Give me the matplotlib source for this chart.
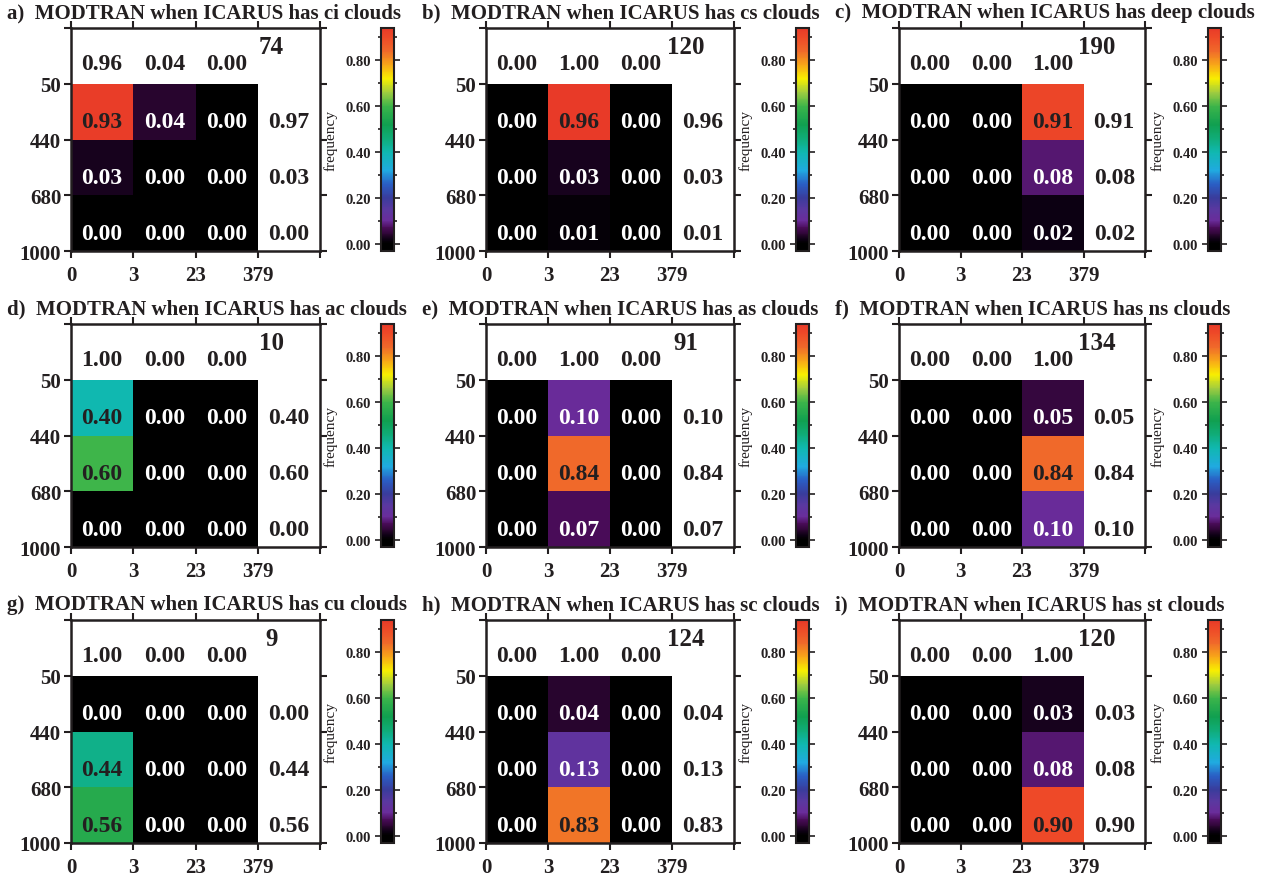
import numpy as np
from matplotlib import pyplot as plt
from matplotlib.colors import LinearSegmentedColormap, Normalize

plt.rcParams['font.family'] = ['Liberation Serif', 'DejaVu Serif']
plt.rcParams['font.weight'] = 'bold'

# data
panel_tags = ['a', 'b', 'c', 'd', 'e', 'f', 'g', 'h', 'i']
cloud_types = ['ci', 'cs', 'deep', 'ac', 'as', 'ns', 'cu', 'sc', 'st']
counts = [74, 120, 190, 10, 91, 134, 9, 124, 120]
x_labels = ['0', '3', '23', '379']
y_labels = ['1000', '680', '440', '50']

# rows top->bottom (50-440, 440-680, 680-1000), cols (0-3, 3-23, 23-379)
freq = [
    [[0.93, 0.04, 0.00], [0.03, 0.00, 0.00], [0.00, 0.00, 0.00]],
    [[0.00, 0.96, 0.00], [0.00, 0.03, 0.00], [0.00, 0.01, 0.00]],
    [[0.00, 0.00, 0.91], [0.00, 0.00, 0.08], [0.00, 0.00, 0.02]],
    [[0.40, 0.00, 0.00], [0.60, 0.00, 0.00], [0.00, 0.00, 0.00]],
    [[0.00, 0.10, 0.00], [0.00, 0.84, 0.00], [0.00, 0.07, 0.00]],
    [[0.00, 0.00, 0.05], [0.00, 0.00, 0.84], [0.00, 0.00, 0.10]],
    [[0.00, 0.00, 0.00], [0.44, 0.00, 0.00], [0.56, 0.00, 0.00]],
    [[0.00, 0.04, 0.00], [0.00, 0.13, 0.00], [0.00, 0.83, 0.00]],
    [[0.00, 0.00, 0.03], [0.00, 0.00, 0.08], [0.00, 0.00, 0.90]],
]
col_sums = [
    [0.96, 0.04, 0.00], [0.00, 1.00, 0.00], [0.00, 0.00, 1.00],
    [1.00, 0.00, 0.00], [0.00, 1.00, 0.00], [0.00, 0.00, 1.00],
    [1.00, 0.00, 0.00], [0.00, 1.00, 0.00], [0.00, 0.00, 1.00],
]
row_sums = [
    [0.97, 0.03, 0.00], [0.96, 0.03, 0.01], [0.91, 0.08, 0.02],
    [0.40, 0.60, 0.00], [0.10, 0.84, 0.07], [0.05, 0.84, 0.10],
    [0.00, 0.44, 0.56], [0.04, 0.13, 0.83], [0.03, 0.08, 0.90],
]

# colour scale (value -> colour), similar to the GMT rainbow used in the original
vmin, vmax = -0.03, 0.94
anchors = [(-0.03, '#000000'), (0.0, '#000000'), (0.02, '#0c0012'), (0.04, '#2a0530'),
           (0.07, '#4a0c5a'), (0.10, '#6a2c9a'), (0.15, '#5a38a0'), (0.20, '#3a3c9c'),
           (0.26, '#2a5ec4'), (0.32, '#20aae0'), (0.40, '#10b8b0'), (0.46, '#10ac78'),
           (0.52, '#10a050'), (0.60, '#3cb44a'), (0.66, '#a0cc40'), (0.72, '#f8f000'),
           (0.78, '#f8a818'), (0.84, '#f06a2a'), (0.90, '#ee4a28'), (0.94, '#e83a28')]
cmap = LinearSegmentedColormap.from_list(
    'gmt_rainbow', [((v - vmin) / (vmax - vmin), c) for v, c in anchors])
norm = Normalize(vmin=vmin, vmax=vmax)

W, H = 1265, 879
fig = plt.figure(figsize=(W / 100, H / 100), dpi=100)

col_left = [71, 486, 899]
col_width = [249, 248, 246]
row_top = [29, 325, 621]
ax_h = 223
cb_left = [381, 796, 1208]
cb_w = 13
dark = '#231f20'

for k in range(9):
    r, c = divmod(k, 3)
    left, top = col_left[c], row_top[r]
    ax = fig.add_axes([left / W, 1 - (top + ax_h) / H, col_width[c] / W, ax_h / H])
    m = np.array(freq[k])[::-1]  # bottom row first
    mesh = ax.pcolormesh(np.arange(4), np.arange(4), m, cmap=cmap, norm=norm)
    ax.set_xlim(0, 4)
    ax.set_ylim(0, 4)
    for i in range(3):
        for j in range(3):
            v = m[i, j]
            ax.text(j + 0.5, i + 0.32, '%.2f' % v, ha='center', va='center', fontsize=17,
                    color=dark if v > 0.3 else 'white')
    for j in range(3):
        ax.text(j + 0.5, 3.37, '%.2f' % col_sums[k][j], ha='center', va='center',
                fontsize=17, color=dark)
    for i in range(3):
        ax.text(3.5, 2.32 - i, '%.2f' % row_sums[k][i], ha='center', va='center',
                fontsize=17, color=dark)
    ax.text(3.22, 3.66, str(counts[k]), ha='center', va='center', fontsize=18, color=dark)

    ax.set_xticks(range(5))
    ax.set_xticklabels(x_labels + [''])
    ax.set_yticks(range(5))
    ax.set_yticklabels(y_labels + [''])
    ax.tick_params(direction='out', length=5, width=1.5, top=True, right=True,
                   labelsize=15, colors=dark)
    ax.tick_params(axis='x', pad=5)
    ax.tick_params(axis='y', pad=2)
    for sp in ax.spines.values():
        sp.set_linewidth(1.8)
        sp.set_color(dark)

    fig.text((left - 64) / W, 1 - (top - 16) / H,
             '%s)  MODTRAN when ICARUS has %s clouds' % (panel_tags[k], cloud_types[k]),
             ha='left', va='center', fontsize=15, color=dark)

    cax = fig.add_axes([cb_left[c] / W, 1 - (top + ax_h) / H, cb_w / W, ax_h / H])
    cb = fig.colorbar(mesh, cax=cax)
    cb.set_ticks([0.0, 0.2, 0.4, 0.6, 0.8])
    cb.set_ticklabels(['0.00', '0.20', '0.40', '0.60', '0.80'])
    cb.ax.set_yticks(np.arange(0.0, 0.95, 0.1), minor=True)
    cax.tick_params(which='both', left=True, right=True, labelleft=True, labelright=False,
                    direction='out', labelsize=10.5, colors=dark, width=1.2)
    cax.tick_params(which='major', length=4, pad=3)
    cax.tick_params(which='minor', length=2.5)
    cax.yaxis.set_label_position('left')
    cb.set_label('frequency', fontsize=11, color=dark, labelpad=6)
    cb.outline.set_linewidth(1.5)
    cb.outline.set_edgecolor(dark)

fig.savefig('out.png', dpi=100)
